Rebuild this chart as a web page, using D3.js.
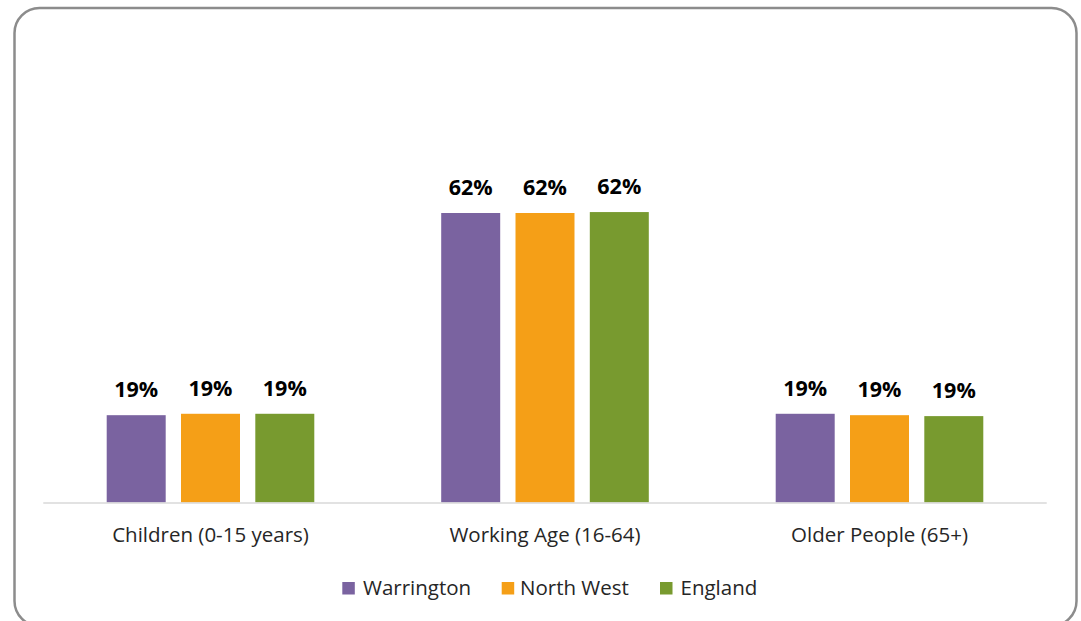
<!DOCTYPE html>
<html>
<head>
<meta charset="utf-8">
<script src="https://cdn.jsdelivr.net/npm/d3@7"></script>
<style>
  html, body { margin: 0; padding: 0; background: #fff; }
  svg { display: block; }
</style>
</head>
<body>
<svg id="chart" width="1081" height="621"></svg>
<script>
const categories = ["Children (0-15 years)", "Working Age (16-64)", "Older People (65+)"];
const seriesNames = ["Warrington", "North West", "England"];
const warrington = [18.7, 62.0, 19.0];
const northWest = [19.0, 62.0, 18.7];
const england = [19.0, 62.2, 18.5];
const seriesColors = ["#7a63a0", "#f59f17", "#789a2f"];

const seriesValues = [warrington, northWest, england];
const data = categories.map((c, i) => ({
  category: c,
  values: seriesNames.map((s, j) => ({ series: s, value: seriesValues[j][i], color: seriesColors[j] }))
}));

const svg = d3.select("#chart");

// outer rounded frame
svg.append("rect")
  .attr("x", 14.5).attr("y", 8).attr("width", 1062).attr("height", 618)
  .attr("rx", 25).attr("ry", 25)
  .attr("fill", "#fff").attr("stroke", "#8c8c8c").attr("stroke-width", 2.5);

const plot = { left: 43.25, right: 1046.75, bottom: 502.5 };
const pxPerPct = 289.5 / 62;

const x0 = d3.scaleBand().domain(categories).range([plot.left, plot.right]).padding(0);
const x1 = d3.scaleBand().domain(seriesNames).range([0, x0.bandwidth()])
  .paddingInner(0.206).paddingOuter(0.854);
const y = d3.scaleLinear().domain([0, 70]).range([plot.bottom, plot.bottom - 70 * pxPerPct]);

const groups = svg.append("g").selectAll("g").data(data).join("g")
  .attr("transform", d => `translate(${x0(d.category)},0)`);

groups.selectAll("rect").data(d => d.values).join("rect")
  .attr("x", d => x1(d.series))
  .attr("y", d => y(d.value))
  .attr("width", x1.bandwidth())
  .attr("height", d => y(0) - y(d.value))
  .attr("fill", d => d.color);

groups.selectAll("text.lbl").data(d => d.values).join("text")
  .attr("class", "lbl")
  .attr("x", d => x1(d.series) + x1.bandwidth() / 2)
  .attr("y", d => y(d.value) - 18)
  .attr("text-anchor", "middle")
  .attr("font-family", "'Open Sans', 'Noto Sans', sans-serif")
  .attr("font-weight", "bold")
  .attr("font-size", 21.5)
  .attr("fill", "#000")
  .text(d => Math.round(d.value) + "%");

// x axis
const xAxis = d3.axisBottom(x0).tickSize(0).tickPadding(0);
const axisG = svg.append("g").attr("transform", `translate(0,${plot.bottom})`).call(xAxis);
axisG.select(".domain").attr("stroke", "#d9d9d9").attr("stroke-width", 1.5)
  .attr("d", `M${plot.left},0.5H${plot.right}`);
axisG.selectAll(".tick text")
  .attr("y", 39)
  .attr("dy", 0)
  .attr("font-family", "'Open Sans', 'Noto Sans', sans-serif")
  .attr("font-size", 20.5)
  .attr("fill", "#262626");

// legend
const legendItems = [
  { name: seriesNames[0], color: seriesColors[0], sx: 342.3, tx: 363 },
  { name: seriesNames[1], color: seriesColors[1], sx: 501.7, tx: 520 },
  { name: seriesNames[2], color: seriesColors[2], sx: 660, tx: 680.5 }
];
const lg = svg.append("g").selectAll("g").data(legendItems).join("g");
lg.append("rect").attr("x", d => d.sx).attr("y", 582).attr("width", 12.5).attr("height", 12.5)
  .attr("fill", d => d.color);
lg.append("text").attr("x", d => d.tx).attr("y", 595)
  .attr("font-family", "'Open Sans', 'Noto Sans', sans-serif")
  .attr("font-size", 20.5)
  .attr("fill", "#262626")
  .text(d => d.name);
</script>
</body>
</html>
